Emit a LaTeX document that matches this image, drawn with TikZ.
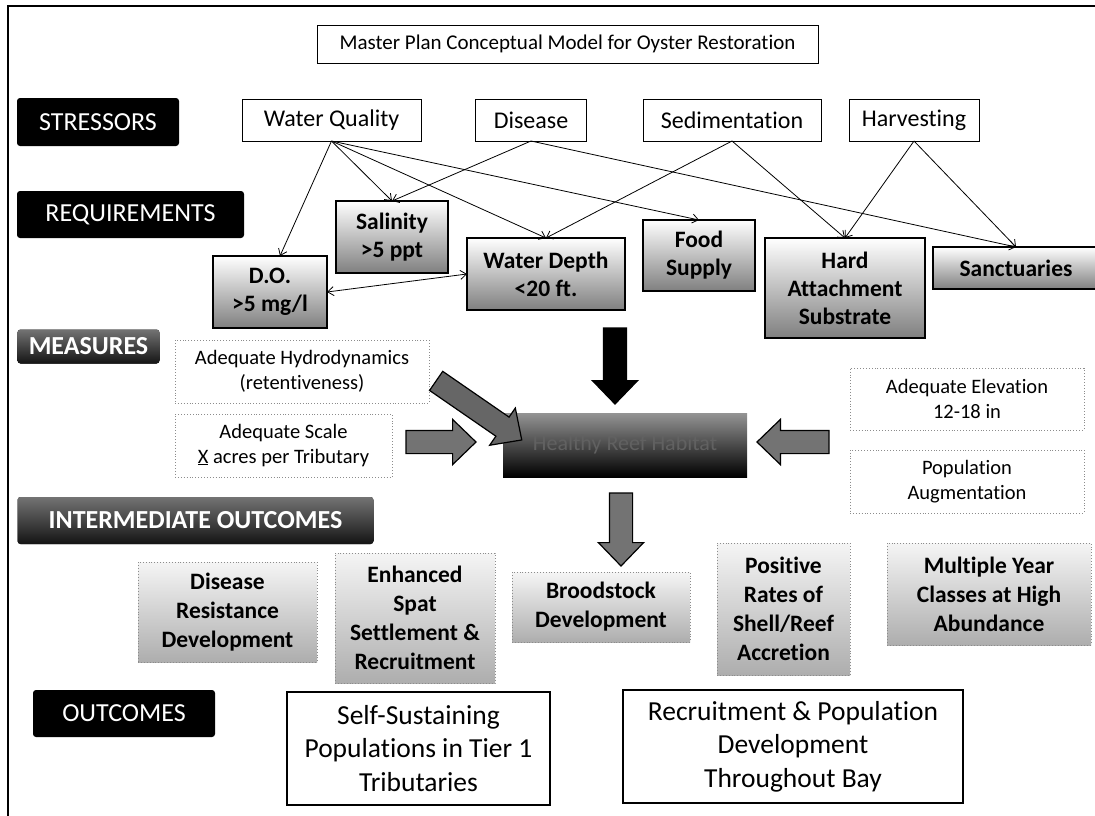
\documentclass[tikz,border=0pt]{standalone}
\usepackage{fontspec}
\setmainfont{Carlito}[Ligatures=CommonOff]
\usetikzlibrary{shapes.arrows,arrows.meta,calc}
\begin{document}
\begin{tikzpicture}[x=1pt,y=-1pt,
  box/.style={draw, line width=0.9pt, inner sep=0pt, outer sep=0pt, align=center, fill=white},
  hdr/.style={fill=black, rounded corners=3pt, text=white, inner sep=0pt, outer sep=0pt, font=\fontsize{26}{30}\selectfont},
  hdrg/.style={hdr, top color=black!55, bottom color=black!92, font=\bfseries\fontsize{26}{30}\selectfont},
  titlebox/.style={box, font=\fontsize{21}{25}\selectfont},
  stress/.style={box, font=\fontsize{24}{28}\selectfont},
  req/.style={box, line width=1.4pt, top color=white, bottom color=black!50, font=\bfseries\fontsize{23.5}{28}\selectfont},
  meas/.style={box, draw=black!45, dotted, line width=0.8pt, font=\fontsize{20.5}{24.5}\selectfont},
  inter/.style={box, draw=black!45, dotted, line width=0.8pt, top color=black!4, bottom color=black!32, font=\bfseries\fontsize{23.5}{29}\selectfont},
  outc/.style={box, line width=1.4pt, font=\fontsize{27.5}{33.5}\selectfont},
  link/.style={-{Straight Barb[length=6pt,width=9pt]}, line width=0.8pt},
  dlink/.style={{Straight Barb[length=6pt,width=9pt]}-{Straight Barb[length=6pt,width=9pt]}, line width=0.8pt},
  blk/.style={single arrow, draw=black, line width=1.2pt, fill=black!55, inner sep=11pt, single arrow head extend=11pt, single arrow tip angle=88, outer sep=0pt}
]
\useasboundingbox (0,0) rectangle (1095,815);
\clip (0,0) rectangle (1095,815);

% frame
\draw[line width=1.2pt] (1100,6) -- (8,6) -- (8,820);

% title
\node[titlebox, minimum width=501pt, minimum height=38pt] (title) at (567.5,44) {Master Plan Conceptual Model for Oyster Restoration};

% row headers
\node[hdr, minimum width=162pt, minimum height=48pt] (hstr) at (98,122) {STRESSORS};
\node[hdr, minimum width=227pt, minimum height=47pt] (hreq) at (130.5,214.5) {REQUIREMENTS};
\node[hdrg, minimum width=142pt, minimum height=34pt] (hmeas) at (88.5,346.5) {MEASURES};
\node[hdrg, minimum width=356pt, minimum height=47pt] (hint) at (195.5,520.5) {INTERMEDIATE OUTCOMES};
\node[hdr, minimum width=182pt, minimum height=47pt] (hout) at (124,713.5) {OUTCOMES};

% stressors
\node[stress, minimum width=179pt, minimum height=42pt] (wq) at (331.5,120) {Water Quality};
\node[stress, minimum width=111pt, minimum height=42pt] (dis) at (531,120) {Disease};
\node[stress, minimum width=178pt, minimum height=42pt] (sed) at (732,120) {Sedimentation};
\node[stress, minimum width=130pt, minimum height=42pt] (harv) at (914,120) {Harvesting};

% requirements
\node[req, minimum width=112pt, minimum height=72pt] (sal) at (392,237) {Salinity\\>5 ppt};
\node[req, minimum width=114pt, minimum height=72pt] (do) at (270,292) {D.O.\\>5 mg/l};
\node[req, minimum width=158pt, minimum height=72pt] (wd) at (546,274) {Water Depth\\<20 ft.};
\node[req, minimum width=112pt, minimum height=71pt] (food) at (699,255.5) {Food\\Supply};
\node[req, minimum width=160pt, minimum height=100pt] (hard) at (845,288) {Hard\\Attachment\\Substrate};
\node[req, minimum width=166pt, minimum height=42pt] (sanc) at (1016,268) {Sanctuaries};

% stressor -> requirement links
\draw[link] (wq.south) -- ([xshift=10pt]do.north);
\draw[link] (wq.south) -- (sal.north);
\draw[link] (wq.south) -- (wd.north);
\draw[link] (wq.south) -- (food.north);
\draw[link] (dis.south) -- (sal.north);
\draw[link] (dis.south) -- (sanc.north);
\draw[link] (sed.south) -- (wd.north);
\draw[link] (sed.south) -- (hard.north);
\draw[link] (harv.south) -- (hard.north);
\draw[link] (harv.south) -- (sanc.north);
\draw[dlink] (do.east) -- (wd.west);

% measures
\node[meas, minimum width=254pt, minimum height=63pt] (hydro) at (302,371.5) {Adequate Hydrodynamics\\(retentiveness)};
\node[meas, minimum width=217pt, minimum height=63pt] (scale) at (283.5,445.5) {Adequate Scale\\\underline{X} acres per Tributary};
\node[meas, minimum width=234pt, minimum height=62pt] (elev) at (967,399) {Adequate Elevation\\12-18 in};
\node[meas, minimum width=234pt, minimum height=63pt] (aug) at (967,481.5) {Population\\Augmentation};

% central box
\node[box, draw=none, top color=black!42, bottom color=black, minimum width=244pt, minimum height=64pt, text=black!62, font=\fontsize{22}{26}\selectfont] (reef) at (625,445) {Healthy Reef Habitat};

% block arrows
\node[blk, fill=black, minimum height=76pt, rotate=-90] (adown) at (615,360) {};
\node[blk, fill=black!60, minimum height=104pt, rotate=-34.6] (adiag) at (474,407) {};
\node[blk, minimum height=70pt] (aright) at (435,442) {};
\node[blk, minimum height=72pt, rotate=180] (aleft) at (799,442) {};
\node[blk, minimum height=73pt, rotate=-90] (adown2) at (621,523.5) {};

% intermediate outcomes
\node[inter, minimum width=179pt, minimum height=100pt] (dres) at (227.5,612) {Disease\\Resistance\\Development};
\node[inter, minimum width=160pt, minimum height=130pt] (spat) at (415,618) {Enhanced\\Spat\\Settlement \&\\Recruitment};
\node[inter, minimum width=178pt, minimum height=70pt] (brood) at (601,607) {Broodstock\\Development};
\node[inter, minimum width=133pt, minimum height=132pt] (rates) at (783.5,609) {Positive\\Rates of\\Shell/Reef\\Accretion};
\node[inter, minimum width=204pt, minimum height=102pt] (multi) at (989,594) {Multiple Year\\Classes at High\\Abundance};

% outcomes
\node[outc, minimum width=263pt, minimum height=113pt] (self) at (418.5,748.5) {Self-Sustaining\\Populations in Tier 1\\Tributaries};
\node[outc, minimum width=340pt, minimum height=113pt] (recr) at (793,746.5) {Recruitment \& Population\\Development\\Throughout Bay};
\end{tikzpicture}
\end{document}
